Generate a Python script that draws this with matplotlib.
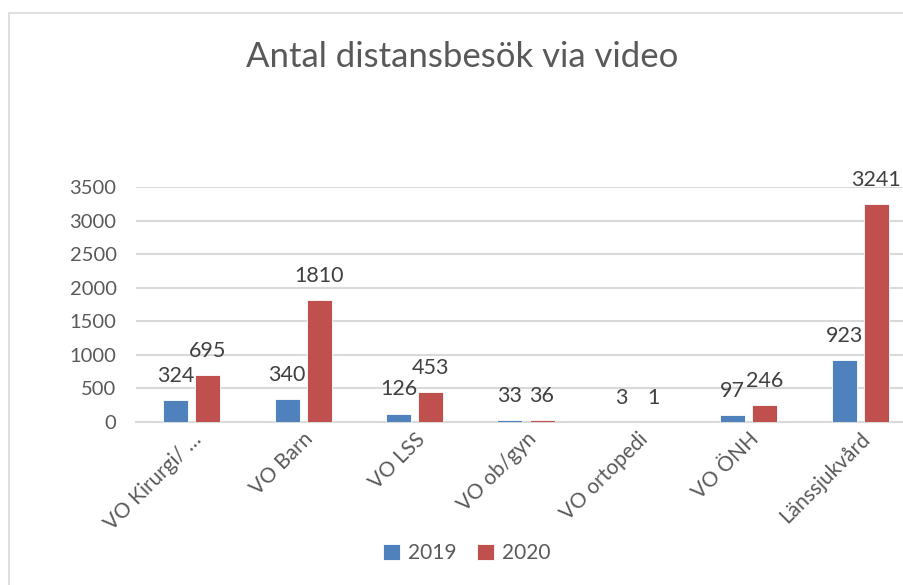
import numpy as np
import matplotlib.pyplot as plt
from matplotlib.patches import Rectangle

# Antal distansbesök via video per verksamhetsområde
categories = ["VO Kirurgi/ …", "VO Barn", "VO LSS", "VO ob/gyn",
              "VO ortopedi", "VO ÖNH", "Länssjukvård"]
years = ["2019", "2020"]
visits_2019 = [324, 340, 126, 33, 3, 97, 923]
visits_2020 = [695, 1810, 453, 36, 1, 246, 3241]
yticks = [0, 500, 1000, 1500, 2000, 2500, 3000, 3500]

plt.rcParams['font.family'] = ['Lato', 'DejaVu Sans']

blue = '#4F81BD'
red = '#C0504D'
grid_col = '#D9D9D9'
tick_col = '#595959'
label_col = '#404040'

W, H = 904, 585
fig = plt.figure(figsize=(W / 100, H / 100), dpi=100)

# tunn ram runt diagramytan
fig.patches.append(Rectangle((9 / W, 0 - 0.05), 1.1, (H - 13) / H + 0.05,
                             transform=fig.transFigure, fill=False,
                             edgecolor='#D9D9D9', linewidth=1.2))

ax = fig.add_axes([136 / W, 1 - 422 / H, (916 - 136) / W, (422 - 187) / H])

x = np.arange(len(categories))
w = 0.225
off = 0.144
b1 = ax.bar(x - off, visits_2019, w, color=blue, edgecolor='white',
            linewidth=0.6, label=years[0], zorder=3)
b2 = ax.bar(x + off, visits_2020, w, color=red, edgecolor='white',
            linewidth=0.6, label=years[1], zorder=3)

for bars, vals in ((b1, visits_2019), (b2, visits_2020)):
    for rect, v in zip(bars, vals):
        ax.annotate(str(v), (rect.get_x() + rect.get_width() / 2, v),
                    xytext=(0, 13), textcoords='offset points',
                    ha='center', va='baseline', fontsize=15.5,
                    color=label_col, zorder=4)

ax.set_xlim(-0.5, len(categories) - 0.5)
ax.set_ylim(0, 3500)
ax.set_yticks(yticks)
ax.set_yticklabels([str(t) for t in yticks])
ax.yaxis.grid(True, color=grid_col, linewidth=1.5, zorder=0)
ax.set_axisbelow(True)

for s in ('top', 'right', 'left'):
    ax.spines[s].set_visible(False)
ax.spines['bottom'].set_color(grid_col)
ax.spines['bottom'].set_linewidth(1.5)

ax.tick_params(axis='y', length=0, pad=14, labelsize=14.5, labelcolor=tick_col)
ax.tick_params(axis='x', length=0, pad=5, labelsize=15, labelcolor=tick_col)
ax.set_xticks(x)
ax.set_xticklabels(categories, rotation=45, ha='right', rotation_mode='anchor')

fig.text(462 / W, 1 - 57 / H, "Antal distansbesök via video", ha='center',
         va='center', fontsize=25, color=tick_col)

fig.legend(handles=[b1, b2], labels=years, loc='center',
           bbox_to_anchor=(467 / W, 1 - 553 / H), ncol=2, frameon=False,
           fontsize=15, labelcolor=tick_col, handlelength=0.8,
           handleheight=0.8, handletextpad=0.4, columnspacing=1.0)

fig.savefig('out.png', dpi=100)
